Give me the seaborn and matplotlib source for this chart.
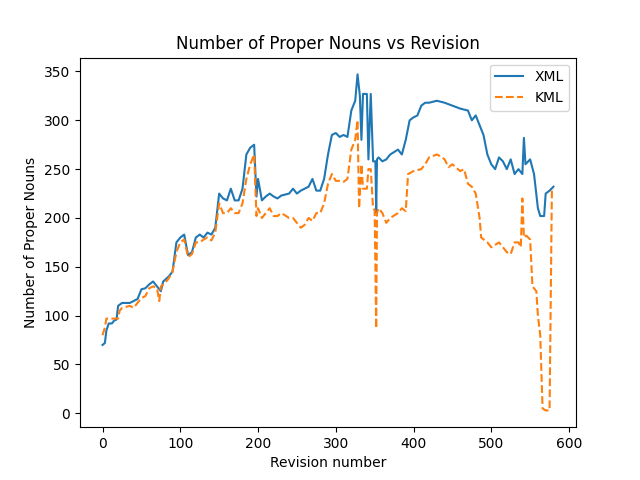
import matplotlib
matplotlib.use("Agg")
import matplotlib.pyplot as plt
import seaborn as sns

# breakpoints (revision, count)
xml_rev = [0, 3, 5, 8, 12, 15, 18, 20, 25, 35, 40, 45, 50, 55, 60, 65, 70, 75, 78, 85,
           90, 95, 100, 105, 110, 115, 120, 125, 130, 135, 140, 145, 150, 155, 160, 165, 170, 175, 180, 185,
           190, 195, 198, 200, 205, 210, 215, 220, 225, 230, 240, 245, 250, 255, 260, 265, 270, 275, 280, 285,
           290, 295, 300, 305, 310, 315, 320, 325, 328, 331, 333, 335, 340, 342, 345, 348, 351, 352, 353, 355,
           360, 365, 370, 380, 385, 390, 395, 400, 405, 410, 415, 420, 430, 440, 450, 460, 470, 475, 480, 490,
           495, 500, 505, 510, 515, 520, 525, 530, 535, 540, 542, 544, 550, 555, 560, 563, 568, 570, 575, 580]
xml_val = [70, 72, 85, 92, 92, 95, 96, 110, 113, 113, 115, 117, 127, 128, 132, 135, 130, 125, 135, 140,
           145, 175, 180, 183, 162, 165, 180, 183, 180, 185, 183, 190, 225, 220, 218, 230, 218, 218, 230, 265,
           272, 275, 222, 240, 218, 222, 225, 222, 220, 223, 225, 230, 225, 228, 230, 232, 240, 228, 228, 240,
           265, 285, 287, 283, 285, 283, 310, 320, 347, 325, 280, 327, 327, 260, 327, 258, 258, 205, 260, 262,
           258, 260, 265, 270, 265, 280, 300, 303, 305, 315, 318, 318, 320, 318, 315, 312, 310, 300, 305, 285,
           265, 255, 250, 262, 258, 250, 260, 245, 250, 245, 282, 255, 260, 245, 210, 202, 202, 225, 228, 232]

kml_rev = [0, 3, 5, 15, 20, 22, 25, 35, 40, 45, 50, 55, 60, 65, 70, 73, 75, 80, 85, 90,
           95, 100, 105, 110, 115, 120, 125, 130, 135, 140, 145, 150, 155, 160, 165, 170, 175, 180, 185, 190,
           195, 198, 200, 205, 210, 215, 220, 225, 230, 240, 245, 250, 255, 260, 265, 270, 275, 280, 285, 290,
           295, 300, 305, 310, 315, 320, 325, 328, 330, 333, 335, 340, 342, 345, 348, 350, 352, 353, 355, 360,
           365, 370, 380, 385, 390, 393, 400, 410, 415, 420, 430, 435, 440, 445, 450, 460, 465, 470, 475, 480,
           485, 487, 495, 500, 510, 515, 520, 525, 530, 535, 538, 540, 542, 545, 550, 553, 558, 560, 563, 566,
           570, 573, 575, 578, 580]
kml_val = [80, 88, 97, 97, 97, 105, 108, 110, 108, 113, 118, 120, 128, 130, 128, 115, 130, 133, 138, 145,
           165, 175, 178, 160, 163, 175, 175, 178, 180, 177, 185, 215, 205, 205, 210, 205, 205, 215, 240, 255,
           265, 202, 210, 200, 205, 210, 202, 202, 205, 200, 200, 195, 190, 193, 200, 197, 205, 205, 215, 235,
           245, 238, 238, 237, 240, 270, 280, 300, 210, 255, 230, 230, 250, 250, 210, 208, 87, 205, 210, 205,
           195, 200, 205, 210, 207, 245, 248, 250, 255, 262, 265, 263, 260, 252, 255, 248, 250, 235, 232, 225,
           200, 180, 175, 170, 175, 170, 165, 163, 175, 175, 170, 220, 180, 182, 178, 130, 125, 100, 80, 5,
           3, 3, 3, 230, 230]

fig, ax = plt.subplots(figsize=(6.4, 4.8), dpi=100)
sns.lineplot(x=xml_rev, y=xml_val, sort=False, estimator=None, color="#1f77b4", label="XML", ax=ax)
sns.lineplot(x=kml_rev, y=kml_val, sort=False, estimator=None, color="#ff7f0e", linestyle="--", label="KML", ax=ax)
ax.set_title("Number of Proper Nouns vs Revision")
ax.set_xlabel("Revision number")
ax.set_ylabel("Number of Proper Nouns")
ax.set_xticks([0, 100, 200, 300, 400, 500, 600])
ax.set_yticks(range(0, 351, 50))
ax.legend(loc="upper right")
plt.savefig("out.png")
